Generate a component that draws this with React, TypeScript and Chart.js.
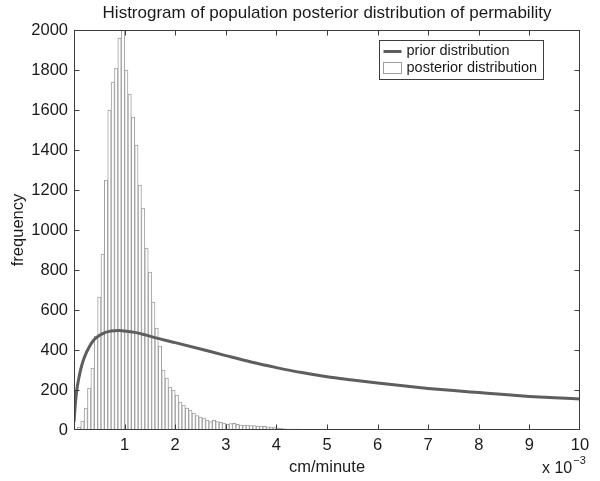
import React, { useEffect, useRef } from 'react';
import { Chart, registerables } from 'chart.js';

Chart.register(...registerables);

// ---------- data ----------
const TITLE = 'Histrogram of population posterior distribution of permability';
const X_LABEL = 'cm/minute';
const Y_LABEL = 'frequency';
const X_EXPONENT_BASE = 'x 10';
const X_EXPONENT = '−3';
const LEGEND_PRIOR = 'prior distribution';
const LEGEND_POSTERIOR = 'posterior distribution';

const X_MIN = 0;
const X_MAX = 10;
const X_STEP = 1;
const Y_MIN = 0;
const Y_MAX = 2000;
const Y_STEP = 200;

// histogram bins (units of 1e-3 cm/minute)
const BIN_START = 0;
const BIN_WIDTH = 1 / 15;
const posteriorCounts = [
  2, 15, 45, 110, 210, 310, 470, 665, 880, 1250,
  1600, 1740, 1810, 1960, 2100, 1800, 1680, 1565, 1425, 1225,
  1110, 910, 790, 640, 510, 420, 300, 260, 215, 200,
  175, 140, 125, 110, 100, 85, 72, 65, 60, 50,
  42, 48, 42, 38, 35, 30, 32, 33, 28, 25,
  25, 24, 22, 22, 20, 20, 18, 16, 15, 12,
  10, 8, 6, 5, 5, 4, 4, 3, 3, 3,
  2, 2, 2, 2, 1, 1, 1, 1, 0, 1,
  0, 1, 0, 0, 1,
];

// prior distribution curve
const priorX = [0, 0.02, 0.05, 0.1, 0.15, 0.2, 0.3, 0.4, 0.5, 0.6, 0.7, 0.8, 0.9, 1.0, 1.2, 1.4, 1.6, 1.8, 2.0, 2.5, 3, 3.5, 4, 4.5, 5, 5.5, 6, 6.5, 7, 7.5, 8, 8.5, 9, 9.5, 10];
const priorY = [40, 110, 190, 265, 320, 360, 415, 452, 473, 486, 493, 496, 497, 495, 488, 476, 462, 449, 437, 405, 372, 340, 312, 287, 266, 250, 235, 221, 208, 197, 187, 177, 168, 161, 155];

const FONT = '"Liberation Sans", Arial, Helvetica, sans-serif';
const TEXT_COLOR = '#1a1a1a';
const AXIS_COLOR = '#3c3c3c';
const PRIOR_COLOR = '#5e5e5e';
const BAR_EDGE = '#a0a0a0';

const matlabDecor = {
  id: 'matlabDecor',
  afterDatasetsDraw(chart: any) {
    const { ctx, chartArea: a, scales } = chart;
    const xs = scales.x;
    const ys = scales.y;
    ctx.save();
    // frame
    const L = Math.round(a.left) + 0.5;
    const R = Math.round(a.right) - 0.5;
    const T = Math.round(a.top) + 0.5;
    const B = Math.round(a.bottom) - 0.5;
    ctx.strokeStyle = AXIS_COLOR;
    ctx.lineWidth = 1;
    ctx.strokeRect(L, T, R - L, B - T);
    // inward ticks
    const tl = 5;
    ctx.beginPath();
    for (let v = X_MIN + X_STEP; v < X_MAX; v += X_STEP) {
      const px = Math.round(xs.getPixelForValue(v)) + 0.5;
      ctx.moveTo(px, B); ctx.lineTo(px, B - tl);
      ctx.moveTo(px, T); ctx.lineTo(px, T + tl);
    }
    for (let v = Y_MIN + Y_STEP; v < Y_MAX; v += Y_STEP) {
      const py = Math.round(ys.getPixelForValue(v)) + 0.5;
      ctx.moveTo(L, py); ctx.lineTo(L + tl, py);
      ctx.moveTo(R, py); ctx.lineTo(R - tl, py);
    }
    ctx.stroke();

    // legend
    const lx = Math.round(a.right) - 201 + 0.5;
    const ly = Math.round(a.top) + 10 + 0.5;
    const lw = 164;
    const lh = 39;
    ctx.fillStyle = '#ffffff';
    ctx.fillRect(lx, ly, lw, lh);
    ctx.strokeStyle = AXIS_COLOR;
    ctx.strokeRect(lx, ly, lw, lh);
    ctx.strokeStyle = PRIOR_COLOR;
    ctx.lineWidth = 3;
    ctx.beginPath();
    ctx.moveTo(lx + 4, ly + 11);
    ctx.lineTo(lx + 22, ly + 11);
    ctx.stroke();
    ctx.lineWidth = 1;
    ctx.strokeStyle = BAR_EDGE;
    ctx.strokeRect(lx + 4, ly + 22, 18, 11);
    ctx.fillStyle = TEXT_COLOR;
    ctx.font = `14.5px ${FONT}`;
    ctx.textAlign = 'left';
    ctx.textBaseline = 'middle';
    ctx.fillText(LEGEND_PRIOR, lx + 27, ly + 10);
    ctx.fillText(LEGEND_POSTERIOR, lx + 27, ly + 27);

    // title
    const cx = (a.left + a.right) / 2;
    ctx.font = `17px ${FONT}`;
    ctx.textAlign = 'center';
    ctx.textBaseline = 'middle';
    ctx.fillText(TITLE, cx, 13);
    // x label
    ctx.font = `16.5px ${FONT}`;
    ctx.fillText(X_LABEL, cx, 467);
    // y label
    ctx.save();
    ctx.translate(18, (a.top + a.bottom) / 2);
    ctx.rotate(-Math.PI / 2);
    ctx.fillText(Y_LABEL, 0, 0);
    ctx.restore();
    // exponent
    ctx.textAlign = 'left';
    ctx.textBaseline = 'alphabetic';
    ctx.font = `16px ${FONT}`;
    ctx.fillText(X_EXPONENT_BASE, 542, 473);
    const w = ctx.measureText(X_EXPONENT_BASE).width;
    ctx.font = `11px ${FONT}`;
    ctx.fillText(X_EXPONENT, 542 + w + 1, 464);
    ctx.restore();
  },
};

export default function App() {
  const ref = useRef<HTMLCanvasElement | null>(null);
  useEffect(() => {
    const canvas = ref.current;
    if (!canvas) return;
    const bars = posteriorCounts.map((c, i) => ({ x: BIN_START + (i + 0.5) * BIN_WIDTH, y: c }));
    const prior = priorX.map((x, i) => ({ x, y: priorY[i] }));
    const chart = new Chart(canvas, {
      type: 'bar',
      data: {
        datasets: [
          {
            type: 'line',
            label: LEGEND_PRIOR,
            data: prior,
            borderColor: PRIOR_COLOR,
            borderWidth: 3,
            pointRadius: 0,
            cubicInterpolationMode: 'monotone',
            fill: false,
            order: 0,
          } as any,
          {
            type: 'bar',
            label: LEGEND_POSTERIOR,
            data: bars,
            backgroundColor: '#ffffff',
            borderColor: BAR_EDGE,
            borderWidth: 1,
            barPercentage: 1,
            categoryPercentage: 1,
            grouped: false,
            order: 1,
          } as any,
        ],
      },
      options: {
        responsive: false,
        animation: false,
        devicePixelRatio: 1,
        layout: { padding: { top: 30, right: 20, left: 0, bottom: 0 } },
        plugins: {
          legend: { display: false },
          title: { display: false },
          tooltip: { enabled: false },
        },
        scales: {
          x: {
            type: 'linear',
            min: X_MIN,
            max: X_MAX,
            offset: false,
            grid: { display: false, drawTicks: false },
            border: { display: false },
            ticks: {
              stepSize: X_STEP,
              padding: 6,
              color: TEXT_COLOR,
              font: { family: FONT, size: 16.5 },
              maxRotation: 0,
              callback: (v: any) => (v === 0 ? '' : String(v)),
            },
            afterFit: (s: any) => { s.height = 51; },
          },
          y: {
            type: 'linear',
            min: Y_MIN,
            max: Y_MAX,
            grid: { display: false, drawTicks: false },
            border: { display: false },
            ticks: {
              stepSize: Y_STEP,
              padding: 6,
              color: TEXT_COLOR,
              font: { family: FONT, size: 16.5 },
              callback: (v: any) => String(v),
            },
            afterFit: (s: any) => { s.width = 74; },
          },
        },
      },
      plugins: [matlabDecor],
    });
    return () => chart.destroy();
  }, []);
  return (
    <div style={{ position: 'absolute', left: 0, top: 0, width: 600, height: 481, background: '#fff' }}>
      <canvas ref={ref} width={600} height={481} />
    </div>
  );
}
